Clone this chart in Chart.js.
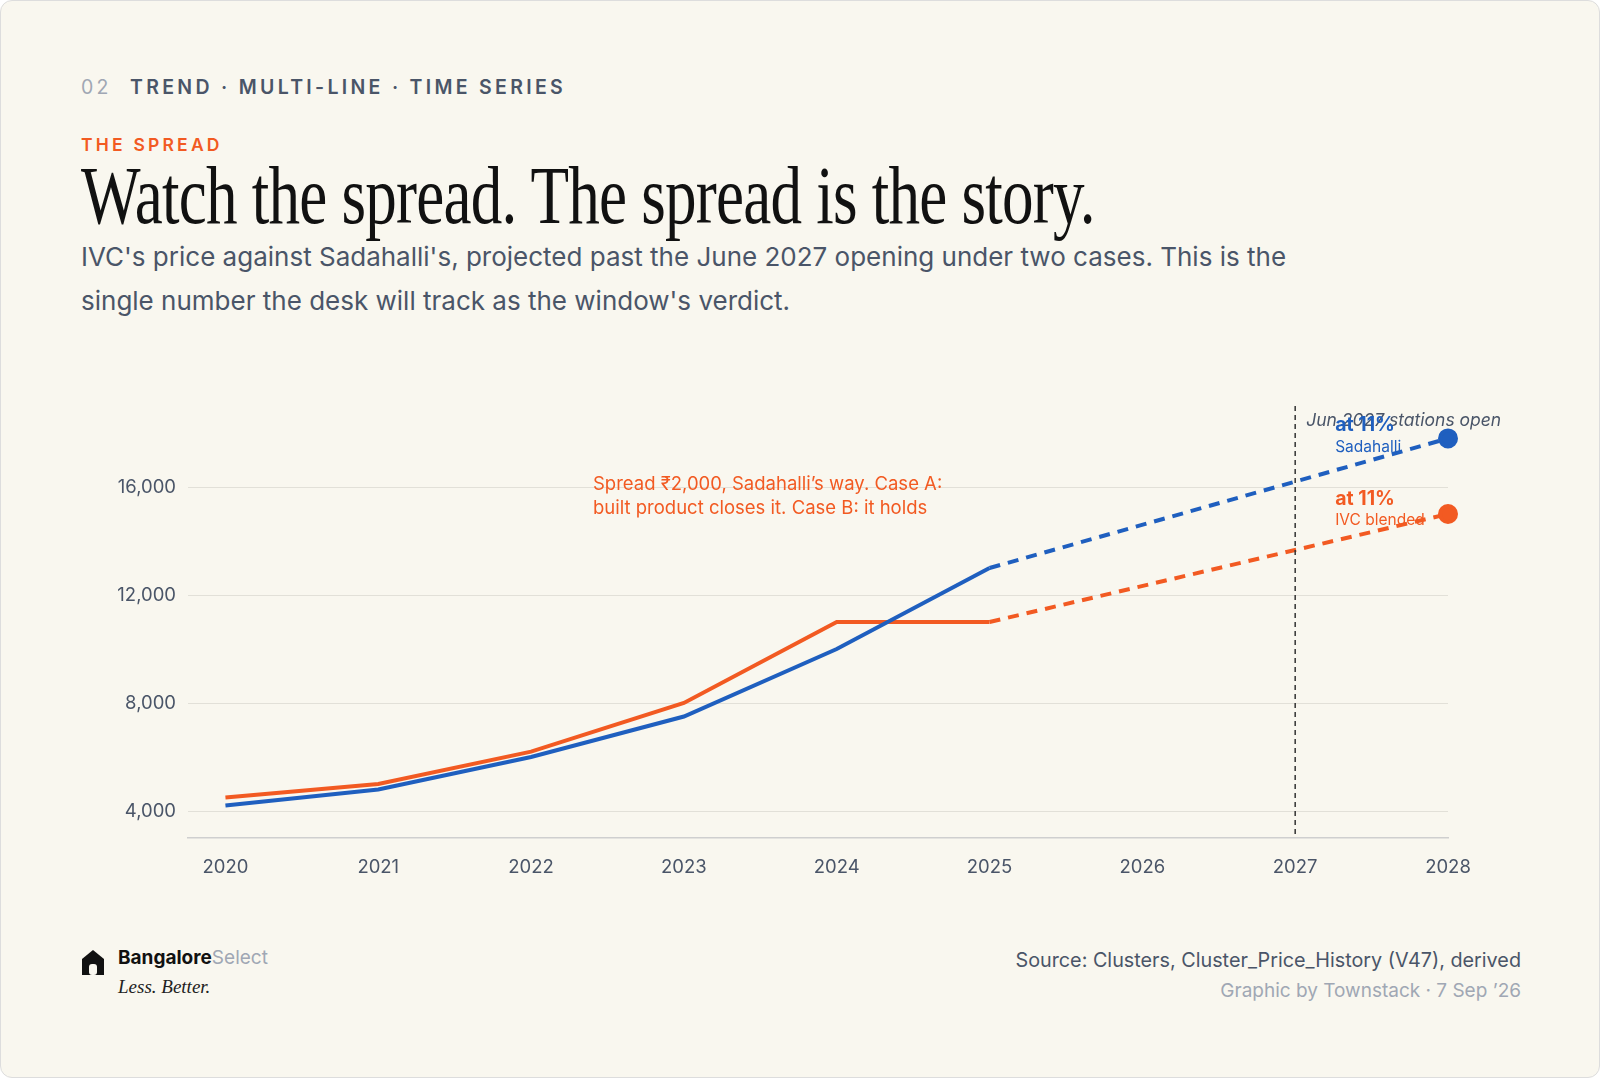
<!DOCTYPE html>
<html><head><meta charset="utf-8">
<script src="https://cdn.jsdelivr.net/npm/chart.js@4/dist/chart.umd.min.js"></script>
<style>
html,body{margin:0;padding:0;background:#fff;}
#page{position:absolute;left:0;top:0;width:1598px;height:1076px;background:#f9f7ef;border:1px solid #ddd;border-radius:12px;overflow:hidden;font-family:Inter,sans-serif;}
.abs{position:absolute;white-space:nowrap;}
</style></head><body>
<div id="page">
<div class="abs" style="left:80px;top:74px;font-size:19.5px;letter-spacing:3.3px;color:#4a5568;font-weight:600;"><span style="color:#a0a7b4;font-weight:400;margin-right:10px;">02</span> TREND · MULTI-LINE · TIME SERIES</div>
<div class="abs" style="left:80px;top:133px;font-size:17.5px;letter-spacing:3.2px;color:#f25a22;font-weight:600;">THE SPREAD</div>
<div id="title" class="abs" style="left:80px;top:148px;font-family:'Liberation Serif',serif;font-size:82px;color:#111;letter-spacing:-1px;transform-origin:0 0;">Watch the spread. The spread is the story.</div>
<div class="abs" style="left:80px;top:234px;font-size:26px;line-height:44px;color:#4a5568;white-space:normal;width:1300px;">IVC's price against Sadahalli's, projected past the June 2027 opening under two cases. This is the<br>single number the desk will track as the window's verdict.</div>
<canvas id="c" width="1600" height="517" style="position:absolute;left:0;top:380px;"></canvas>
<svg class="abs" style="left:80px;top:948px" width="24" height="27" viewBox="0 0 24 27"><path d="M12 1 L23 10 L23 26 L1 26 L1 10 Z" fill="#111"/><rect x="8" y="15" width="8" height="11" rx="3" fill="#f9f7ef"/></svg>
<div class="abs" style="left:117px;top:945px;font-size:19px;font-weight:700;color:#111;">Bangalore<span style="font-weight:400;color:#a0a7b4;">Select</span></div>
<div class="abs" style="left:117px;top:975px;font-size:19px;font-family:'Liberation Serif',serif;font-style:italic;color:#222;">Less. Better.</div>
<div class="abs" style="right:78px;top:947px;font-size:19.8px;color:#4a5568;">Source: Clusters, Cluster_Price_History (V47), derived</div>
<div class="abs" style="right:78px;top:978px;font-size:19px;color:#a0a7b4;">Graphic by Townstack · 7 Sep ’26</div>
</div>
<script>
const t=document.getElementById('title');t.style.transform='scaleX('+(1014/t.offsetWidth)+')';
const years=[2020,2021,2022,2023,2024,2025,2026,2027,2028];
const sadahalli=[4200,4800,6000,7500,10000,13000,null,null,17800];
const ivc=[4500,5000,6200,8000,11000,11000,null,null,15000];
const yTicks=[4000,8000,12000,16000];
const BLUE='#1f5fbf',ORANGE='#f25a22';
function ds(label,vals,color){return{label,data:years.map((x,i)=>({x,y:vals[i]})),borderColor:color,backgroundColor:color,borderWidth:4,spanGaps:true,tension:0,clip:false,
 pointRadius:c=>c.raw&&c.raw.x===2028?8:0,pointHoverRadius:0,
 segment:{borderDash:c=>c.p0.parsed.x>=2025?[11,8]:undefined}};}
const ann={id:'ann',afterDatasetsDraw(ch){const {ctx,scales:{x,y},chartArea:a}=ch;const px=x.getPixelForValue(2027);
 ctx.save();ctx.strokeStyle='#333';ctx.lineWidth=1.5;ctx.setLineDash([5,4]);ctx.beginPath();ctx.moveTo(px,a.top);ctx.lineTo(px,a.bottom);ctx.stroke();ctx.setLineDash([]);
 ctx.textBaseline='middle';ctx.textAlign='left';
 ctx.font='italic 17.5px Inter';ctx.fillStyle='#4a5568';ctx.fillText('Jun 2027 stations open',px+11,40);
 ctx.font='bold 19.5px Inter';ctx.fillStyle=BLUE;ctx.fillText('at 11%',px+40,44);
 ctx.font='15.5px Inter';ctx.fillText('Sadahalli',px+40,66);
 ctx.font='bold 19.5px Inter';ctx.fillStyle=ORANGE;ctx.fillText('at 11%',px+40,118);
 ctx.font='15.5px Inter';ctx.fillText('IVC blended',px+40,139);
 ctx.font='18.5px Inter';ctx.fillText('Spread ₹2,000, Sadahalli’s way. Case A:',592,103);ctx.fillText('built product closes it. Case B: it holds',592,127);
 ctx.restore();}};
new Chart(document.getElementById('c'),{type:'line',data:{datasets:[ds('Sadahalli',sadahalli,BLUE),ds('IVC blended',ivc,ORANGE)]},
 options:{responsive:false,animation:false,devicePixelRatio:1,
 layout:{padding:{top:25,right:153,left:0,bottom:0}},
 plugins:{legend:{display:false},tooltip:{enabled:false}},
 scales:{x:{type:'linear',min:2019.755,max:2028,afterBuildTicks:s=>{s.ticks=years.map(v=>({value:v}));},
   grid:{display:false,drawTicks:false},border:{color:'#cfcfcf',width:1.5},
   ticks:{padding:18,color:'#4a5568',font:{size:18.5,family:'Inter'},callback:v=>String(v)},afterFit:s=>{s.height=60;}},
  y:{min:3000,max:19000,afterBuildTicks:s=>{s.ticks=yTicks.map(v=>({value:v}));},
   grid:{color:'#e2e0d8',drawTicks:false},border:{display:false},
   ticks:{padding:12,color:'#4a5568',font:{size:18.5,family:'Inter'},callback:v=>v.toLocaleString('en-US')},afterFit:s=>{s.width=187;}}}},
 plugins:[ann]});
</script>
</body></html>
